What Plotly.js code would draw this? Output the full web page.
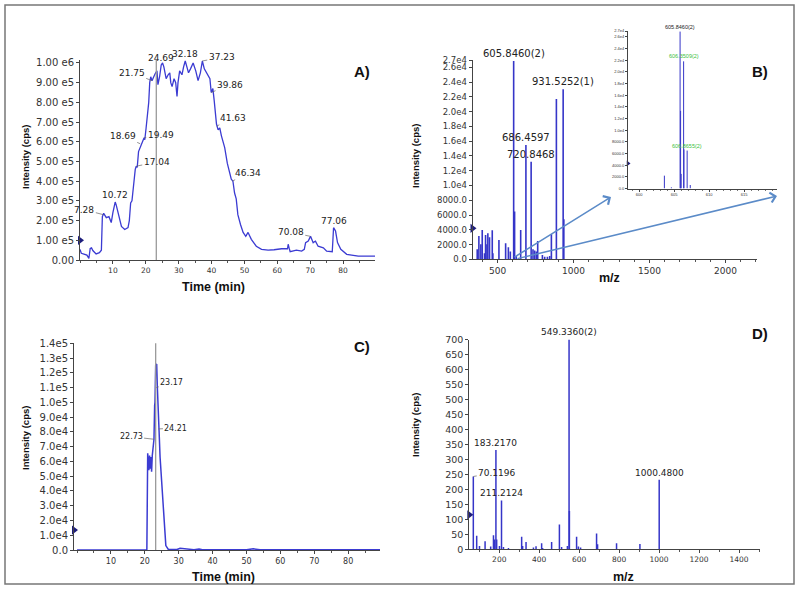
<!DOCTYPE html>
<html><head><meta charset="utf-8">
<script src="https://cdn.plot.ly/plotly-3.0.1.min.js"></script>
<style>html,body{margin:0;padding:0;background:#fff}#chart{width:800px;height:593px}</style>
</head><body><div id="chart"></div>
<script>
// ---------- Panel A: total ion chromatogram ----------
const timeA = [0,0.4,1.2,2.1,2.7,3.1,3.5,3.9,4.9,5.9,
 6.5,6.8,7.2,7.6,8.0,8.8,9.5,10.0,10.7,11.0,
 11.5,12.0,12.6,13.6,14.6,15.0,15.4,15.8,16.4,16.8,
 17.1,17.4,17.8,18.2,18.6,19.0,19.5,19.7,20.1,20.5,
 20.9,21.2,21.5,21.9,22.3,22.7,23.0,23.4,23.7,24.2,
 24.7,25.1,25.5,25.9,26.2,26.8,27.3,27.6,28.0,28.6,
 29.1,29.5,29.8,30.3,31.0,31.5,32.0,32.5,33.0,33.6,
 34.4,35.2,35.9,36.6,37.2,37.8,38.4,39.1,39.5,39.9,
 40.4,40.8,41.2,41.5,42.0,42.5,43.0,43.5,44.0,44.8,
 45.4,46.0,46.5,47.0,47.5,48.0,48.8,49.6,50.4,51.1,
 52.1,53.6,55.2,57.2,59.0,61.3,63.1,63.3,63.6,63.9,
 65.8,67.4,68.2,68.6,69.4,70.1,70.9,71.6,72.4,74.0,
 75.0,76.7,76.9,77.1,77.7,78.3,79.3,81.1,84.6,89.7];
const intensityA = [0.054,0.034,0.03,0.025,0.008,0.059,0.062,0.048,0.031,0.037,
 0.05,0.22,0.237,0.225,0.215,0.22,0.19,0.24,0.294,0.28,
 0.24,0.21,0.17,0.155,0.164,0.2,0.29,0.3,0.4,0.46,
 0.476,0.47,0.55,0.57,0.58,0.6,0.62,0.61,0.67,0.73,
 0.8,0.9,0.93,0.91,0.93,0.94,0.95,0.96,0.89,0.93,
 0.99,1.0,0.98,0.95,0.92,0.94,0.95,0.9,0.88,0.92,
 0.9,0.83,0.9,0.96,0.94,0.98,1.01,0.98,0.95,0.97,
 1.0,0.96,0.91,0.95,1.01,0.97,0.95,0.93,0.92,0.85,
 0.87,0.81,0.74,0.69,0.66,0.67,0.63,0.6,0.57,0.49,
 0.45,0.41,0.4,0.34,0.31,0.23,0.18,0.14,0.12,0.14,
 0.105,0.07,0.054,0.05,0.052,0.057,0.057,0.08,0.06,0.042,
 0.05,0.045,0.054,0.088,0.096,0.12,0.088,0.096,0.07,0.062,
 0.045,0.042,0.1,0.164,0.147,0.088,0.054,0.029,0.02,0.02].map(v => v * 1e6);
const peakLabelsA = ['7.28','10.72','18.69','19.49','17.04','21.75','24.69','32.18','37.23','39.86','41.63','46.34','70.08','77.06'];
const peakTimesA  = [7.1,10.7,18.3,19.5,17.1,21.9,24.7,32.0,37.2,39.9,41.6,46.3,70.1,77.1];
const peakIntA    = [0.23e6,0.294e6,0.59e6,0.62e6,0.476e6,0.91e6,0.99e6,1.01e6,1.01e6,0.85e6,0.68e6,0.40e6,0.12e6,0.164e6];
const tickValsA = [0,1e5,2e5,3e5,4e5,5e5,6e5,7e5,8e5,9e5,1e6];
const tickTextA = ['0.00','1.00 e5','2.00 e5','3.00 e5','4.00 e5','5.00 e5','6.00 e5','7.00 e5','8.00 e5','9.00 e5','1.00 e6'];
const timeTicks = [10,20,30,40,50,60,70,80];
const selectedTime = 23.2;

// ---------- Panel B: MS spectrum ----------
const mzB = [366,377,390,399,414,421,430,436,447,465,469,509,553,571,584,605.846,612,623,652,686.4597,720.8468,733,744,755,764,795,810,828,843,854,887,931.5252,936];
const intB = [1350,3160,2030,3980,810,3300,2030,3530,2980,3930,810,2620,2170,1630,1040,26870,6460,450,3980,15490,13230,1360,1180,1040,2490,590,360,360,450,3440,21720,23030,5420];
const peakLabelsB = ['605.8460(2)','931.5252(1)','686.4597','720.8468'];
const peakMzB  = [605.846,931.5252,686.4597,720.8468];
const peakIntB = [26870,23030,15490,13230];
const tickValsB = [0,2000,4000,6000,8000,10000,12000,14000,16000,18000,20000,22000,24000,26000,27000];
const tickTextB = ['0.0','2000.0','4000.0','6000.0','8000.0','1.0e4','1.2e4','1.4e4','1.6e4','1.8e4','2.0e4','2.2e4','2.4e4','2.6e4','2.7e4'];
const mzTicksB = [500,1000,1500,2000];

// ---------- Panel B inset: isotope cluster ----------
const mzInset  = [603.6,604.6,605.846,605.92,606.0,606.351,606.4,606.855,607.3];
const intInset = [2200,200,26900,13300,2500,21800,6700,6500,600];
const insetLabels = ['605.8460(2)','606.3509(2)','606.8655(2)'];
const insetLabelMz = [605.846,606.351,606.855];
const insetLabelInt = [26900,21800,6500];
const insetLabelColors = ['#222222','#3cbf3c','#3cbf3c'];
const mzTicksInset = [600,605,610,615];

// ---------- Panel C: extracted ion chromatogram ----------
const timeC = [0,5,10,15,20,20.6,20.85,21.0,21.2,21.4,
 21.6,21.8,22.0,22.2,22.5,22.7,22.9,23.0,23.2,23.5,
 23.7,23.9,24.0,24.2,24.5,25.0,25.5,25.8,26.2,26.9,
 28,29.5,30.4,31.5,33,34.5,36,37,40,45,
 50,52,54,60,65,68,70,73,75,77,
 79,85,89.7];
const intensityC = [0,0,0,0,0,0,0.655,0.6,0.54,0.64,
 0.55,0.63,0.53,0.64,0.72,0.75,0.98,1.0,1.25,1.26,
 1.1,0.92,0.85,0.81,0.63,0.47,0.29,0.15,0.03,0.005,
 0.002,0.003,0.012,0.01,0.004,0.002,0.006,0.002,0.001,0.001,
 0.001,0.008,0.001,0.001,0.001,0.002,0.006,0.005,0.001,0.005,
 0.001,0.001,0.001].map(v => v * 1e5);
const peakLabelsC = ['23.17','24.21','22.73'];
const peakTimesC = [23.4,24.0,22.73];
const peakIntC = [1.1e5,0.82e5,0.75e5];
const tickValsC = [0,1e4,2e4,3e4,4e4,5e4,6e4,7e4,8e4,9e4,1e5,1.1e5,1.2e5,1.3e5,1.4e5];
const tickTextC = ['0.0','1.0e4','2.0e4','3.0e4','4.0e4','5.0e4','6.0e4','7.0e4','8.0e4','9.0e4','1.0e5','1.1e5','1.2e5','1.3e5','1.4e5'];

// ---------- Panel D: MS/MS spectrum ----------
const mzD = [70.1196,87,101,129,157,171,176,183.217,187,201,211.2124,221,246,312,317,334,371,384,412,417,462,501,512,541,549.336,551,587,596,607,687,692,787,904,1000.48];
const intD = [243,45,11,27,9,47,33,331,33,11,163,8,4,42,11,24,6,10,20,4,24,83,8,11,700,128,42,9,6,53,17,20,18,232];
const peakLabelsD = ['549.3360(2)','183.2170','70.1196','211.2124','1000.4800'];
const peakMzD = [549.336,183.217,70.1196,211.2124,1000.48];
const peakIntD = [700,331,243,163,232];
const tickValsD = [0,50,100,150,200,250,300,350,400,450,500,550,600,650,700];
const mzTicksD = [200,400,600,800,1000,1200,1400];

// level markers (blue arrows on the y axes)
const levelA = 1.0e5, levelB = 4200, levelC = 1.35e4, levelD = 115, levelInset = 4300;

// ---------- helpers ----------
const W = 800, H = 593;
const dX = (a, b) => [a / W, b / W];
const dY = (top, bottom) => [1 - bottom / H, 1 - top / H];
function sticks(mz, inten) {
  const x = [], y = [];
  mz.forEach((m, i) => { x.push(m, m, null); y.push(0, inten[i], null); });
  return {x, y};
}
const TICKFONT = 'DejaVu Sans';
function ax(extra) {
  return Object.assign({
    showgrid: false, zeroline: false, showline: true, linecolor: '#444', linewidth: 1,
    ticks: 'outside', ticklen: 3, tickcolor: '#444', tickwidth: 1,
    tickfont: {family: TICKFONT, size: 10, color: '#333'}, fixedrange: true
  }, extra);
}
const blue = '#3b3bd2';

const traces = [];
traces.push({type:'scatter', mode:'lines', x: timeA, y: intensityA, xaxis:'x', yaxis:'y', line:{color: blue, width:1.3}, hoverinfo:'skip'});
const sB = sticks(mzB, intB);
traces.push({type:'scatter', mode:'lines', x: sB.x, y: sB.y, xaxis:'x2', yaxis:'y2', line:{color:'#3535c8', width:1.6}, hoverinfo:'skip'});
traces.push({type:'scatter', mode:'lines', x: timeC, y: intensityC, xaxis:'x3', yaxis:'y3', line:{color: blue, width:1.5}, hoverinfo:'skip'});
const sD = sticks(mzD, intD);
traces.push({type:'scatter', mode:'lines', x: sD.x, y: sD.y, xaxis:'x4', yaxis:'y4', line:{color:'#3535c8', width:1.5}, hoverinfo:'skip'});
const sI = sticks(mzInset, intInset);
traces.push({type:'scatter', mode:'lines', x: sI.x, y: sI.y, xaxis:'x5', yaxis:'y5', line:{color:'#3535c8', width:1}, hoverinfo:'skip'});

const rangeA = [0, 89.7], rangeB = [335, 2207], rangeC = [-0.9, 89.4], rangeD = [50, 1505], rangeI = [598.4, 619.7];
const lvl = (xa, ya, xv, yv, size) => ({type:'scatter', mode:'markers', x:[xv], y:[yv], xaxis:xa, yaxis:ya, cliponaxis:false,
  marker:{symbol:'triangle-right', size: size, color:'#1d1d7c'}, hoverinfo:'skip'});
traces.push(lvl('x','y', rangeA[0], levelA, 8));
traces.push(lvl('x2','y2', rangeB[0], levelB, 8));
traces.push(lvl('x3','y3', rangeC[0], levelC, 8));
traces.push(lvl('x4','y4', rangeD[0], levelD, 8));
traces.push(lvl('x5','y5', rangeI[0], levelInset, 5));

const annotations = [];
function peakLabel(xa, ya, x, y, text, off, size, color) {
  const a = {xref: xa, yref: ya, x: x, y: y, text: text,
    font: {family: TICKFONT, size: size, color: color || '#222'}};
  if (off) {
    Object.assign(a, {showarrow: true, ax: off[0], ay: off[1], arrowhead: 0, arrowwidth: 0.7, arrowcolor: '#666', standoff: 0});
  } else {
    Object.assign(a, {showarrow: false, yanchor: 'bottom', yshift: 0});
  }
  annotations.push(a);
}
const offA = [[-19,-5],null,[-17.5,-7.8],[16.6,-2.6],[20.5,-4.2],[-20.3,-8],null,null,[19.4,-3.7],[18.8,-8],[16.5,-7.7],[15.4,-8],[-19.8,-4],null];
peakLabelsA.forEach((t, i) => peakLabel('x','y', peakTimesA[i], peakIntA[i], t, offA[i], 9));
peakLabelsB.forEach((t, i) => peakLabel('x2','y2', peakMzB[i], peakIntB[i], t, null, 10));
const offC = [[15.4,-5],[17.6,-0.7],[-23,-2.6]];
peakLabelsC.forEach((t, i) => peakLabel('x3','y3', peakTimesC[i], peakIntC[i], t, offC[i], 8));
const offD = [null,null,[23.4,-3.8],null,null];
peakLabelsD.forEach((t, i) => peakLabel('x4','y4', peakMzD[i], peakIntD[i], t, offD[i], 9));
insetLabels.forEach((t, i) => annotations.push({xref:'x5', yref:'y5', x: insetLabelMz[i], y: insetLabelInt[i], text: t,
  showarrow:false, yanchor:'bottom', font:{family:'Liberation Sans', size:5.5, color: insetLabelColors[i]}}));

function paperText(px, py, text, size, angle) {
  annotations.push({xref:'paper', yref:'paper', x: px / W, y: 1 - py / H, text: text, showarrow:false,
    xanchor:'center', yanchor:'middle', textangle: angle || 0,
    font:{family:'Liberation Sans', size: size, color:'#111'}});
}
paperText(362, 72, '<b>A)</b>', 15);
paperText(760, 72, '<b>B)</b>', 15);
paperText(362, 347, '<b>C)</b>', 15);
paperText(760, 333, '<b>D)</b>', 15);
paperText(25, 157, '<b>Intensity (cps)</b>', 9.5, -90);
paperText(415, 156, '<b>Intensity (cps)</b>', 9.5, -90);
paperText(25, 438, '<b>Intensity (cps)</b>', 9.5, -90);
paperText(415, 425, '<b>Intensity (cps)</b>', 9.5, -90);
paperText(213, 287, '<b>Time (min)</b>', 12.5);
paperText(223, 577, '<b>Time (min)</b>', 12.5);
paperText(609, 278, '<b>m/z</b>', 12.5);
paperText(623, 577, '<b>m/z</b>', 12.5);

// zoom arrows from main spectrum to the inset
function zoomArrow(x0, y0, x1, y1) {
  annotations.push({xref:'paper', yref:'paper', x: x1 / W, y: 1 - y1 / H, ax: x0 - x1, ay: y0 - y1,
    text:'', showarrow:true, arrowhead:4, arrowsize:1.3, arrowwidth:1.5, arrowcolor:'#5b8bc8'});
}
zoomArrow(513, 258, 611, 197);
zoomArrow(516, 259, 777, 196);

const shapes = [
  {type:'rect', xref:'paper', yref:'paper', x0: 5/W, x1: 794/W, y0: 1-584/H, y1: 1-5/H, line:{color:'#777', width:1.5}},
  {type:'line', xref:'x', yref:'y domain', x0: selectedTime, x1: selectedTime, y0: 0, y1: 1, line:{color:'#9a9a9a', width:1.3}},
  {type:'line', xref:'x3', yref:'y3 domain', x0: selectedTime, x1: selectedTime, y0: 0, y1: 1, line:{color:'#9a9a9a', width:1.3}}
];

const layout = {
  width: W, height: H, margin:{l:0, r:0, t:0, b:0}, paper_bgcolor:'#fff', plot_bgcolor:'rgba(0,0,0,0)',
  showlegend:false, hovermode:false,
  xaxis:  ax({domain: dX(80, 375), range: rangeA, anchor:'y', tickmode:'array', tickvals: timeTicks, tickfont:{family:TICKFONT, size:7.5, color:'#333'},
    minor:{tickmode:'linear', tick0:0, dtick:5, ticks:'outside', ticklen:2, tickcolor:'#555'}}),
  yaxis:  ax({domain: dY(60, 260), range: [0, 1.015e6], anchor:'x', tickmode:'array', tickvals: tickValsA, ticktext: tickTextA}),
  xaxis2: ax({domain: dX(472.5, 757), range: rangeB, anchor:'y2', tickmode:'array', tickvals: mzTicksB, tickfont:{family:TICKFONT, size:9, color:'#333'},
    minor:{tickmode:'linear', tick0:0, dtick:100, ticks:'outside', ticklen:2, tickcolor:'#555'}}),
  yaxis2: ax({domain: dY(60, 259.3), range: [0, 27000], anchor:'x2', tickmode:'array', tickvals: tickValsB, ticktext: tickTextB, tickfont:{family:TICKFONT, size:8.5, color:'#333'}}),
  xaxis3: ax({domain: dX(74, 380), range: rangeC, anchor:'y3', tickmode:'array', tickvals: timeTicks, tickfont:{family:TICKFONT, size:8, color:'#333'},
    minor:{tickmode:'linear', tick0:0, dtick:5, ticks:'outside', ticklen:2, tickcolor:'#555'}}),
  yaxis3: ax({domain: dY(343.3, 550), range: [0, 1.4e5], anchor:'x3', tickmode:'array', tickvals: tickValsC, ticktext: tickTextC}),
  xaxis4: ax({domain: dX(469.3, 760), range: rangeD, anchor:'y4', tickmode:'array', tickvals: mzTicksD, tickfont:{family:TICKFONT, size:7.5, color:'#333'},
    minor:{tickmode:'linear', tick0:0, dtick:100, ticks:'outside', ticklen:2, tickcolor:'#555'}}),
  yaxis4: ax({domain: dY(339.5, 549.3), range: [0, 700], anchor:'x4', tickmode:'array', tickvals: tickValsD, tickfont:{family:TICKFONT, size:9.5, color:'#333'}}),
  xaxis5: ax({domain: dX(628, 777), range: rangeI, anchor:'y5', tickmode:'array', tickvals: mzTicksInset, ticklen:2, tickfont:{family:'Liberation Sans', size:4, color:'#333'},
    minor:{tickmode:'linear', tick0:0, dtick:1, ticks:'outside', ticklen:1, tickcolor:'#777'}}),
  yaxis5: ax({domain: dY(31, 188.5), range: [0, 27000], anchor:'x5', tickmode:'array', tickvals: tickValsB, ticktext: tickTextB, ticklen:2, tickfont:{family:'Liberation Sans', size:4, color:'#333'}}),
  annotations: annotations,
  shapes: shapes
};
Plotly.newPlot('chart', traces, layout, {staticPlot:true, displayModeBar:false});
</script></body></html>
